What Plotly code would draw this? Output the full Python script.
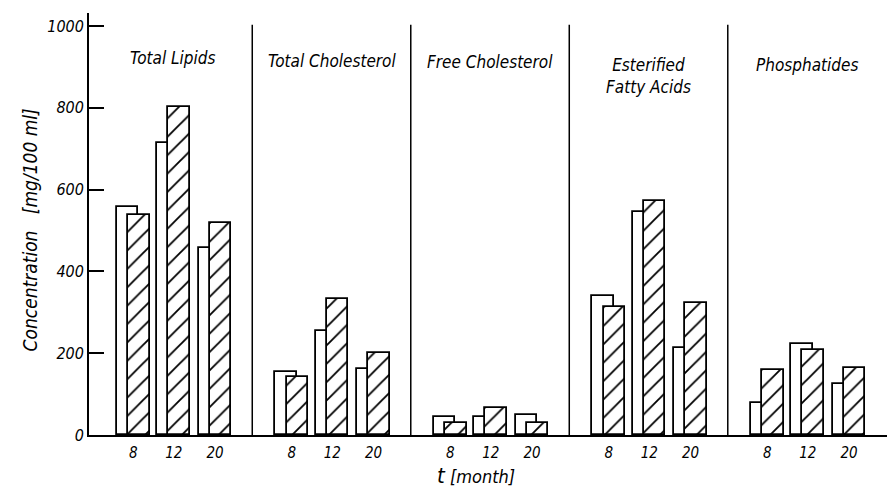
import plotly.graph_objects as go

# ---- data (mg/100 ml) ----
groups = ["Total Lipids", "Total Cholesterol", "Free Cholesterol",
          "Esterified<br>Fatty Acids", "Phosphatides"]
months = ["8", "12", "20"]

total_lipids_open = [557, 714, 457]
total_lipids_hatched = [538, 802, 518]
total_chol_open = [154, 254, 161]
total_chol_hatched = [142, 332, 200]
free_chol_open = [45, 45, 48]
free_chol_hatched = [30, 66, 30]
ester_fa_open = [340, 546, 212]
ester_fa_hatched = [312, 573, 322]
phosph_open = [78, 222, 125]
phosph_hatched = [160, 208, 163]

y_ticks = [0, 200, 400, 600, 800, 1000]

open_series = [total_lipids_open, total_chol_open, free_chol_open, ester_fa_open, phosph_open]
hatched_series = [total_lipids_hatched, total_chol_hatched, free_chol_hatched,
                  ester_fa_hatched, phosph_hatched]

# ---- layout constants ----
month_offsets = [0.25, 0.505, 0.765]
bar_w = 0.136
open_shift = -0.036
hatch_shift = 0.034

FONT = "DejaVu Sans Condensed, Liberation Sans Narrow, Roboto Condensed, Liberation Sans, Arial"

x_open, y_open, x_hatch, y_hatch, tick_x, tick_t = [], [], [], [], [], []
for gi in range(len(groups)):
    for mi, m in enumerate(months):
        c = gi + month_offsets[mi]
        x_open.append(c + open_shift)
        y_open.append(open_series[gi][mi])
        x_hatch.append(c + hatch_shift)
        y_hatch.append(hatched_series[gi][mi])
        tick_x.append(c)
        tick_t.append(m)

fig = go.Figure()
fig.add_trace(go.Bar(
    x=x_open, y=y_open, width=bar_w,
    marker=dict(color="white", line=dict(color="black", width=1.8)),
    showlegend=False, hoverinfo="skip"))
fig.add_trace(go.Bar(
    x=x_hatch, y=y_hatch, width=bar_w,
    marker=dict(color="white", line=dict(color="black", width=1.8),
                pattern=dict(shape="/", fgcolor="black", fgopacity=1, bgcolor="white",
                             size=13, solidity=0.14)),
    showlegend=False, hoverinfo="skip"))

# separators between groups
for k in range(1, len(groups)):
    fig.add_shape(type="line", xref="x", yref="y", x0=k, x1=k, y0=0, y1=1003,
                  line=dict(color="black", width=1.5))

# group titles
title_y = [0.922, 0.915, 0.912, 0.905, 0.905]
for gi, g in enumerate(groups):
    fig.add_annotation(x=gi + 0.5, y=title_y[gi], xref="x", yref="paper",
                       text=g, showarrow=False, yanchor="top", xanchor="center",
                       align="center",
                       font=dict(family=FONT, size=17, color="black", style="italic"))

# axis titles
fig.add_annotation(x=-0.073, y=0.485, xref="paper", yref="paper",
                   xanchor="center", yanchor="middle",
                   text="Concentration   [mg/100 ml]", textangle=-90, showarrow=False,
                   font=dict(family=FONT, size=19, color="black", style="italic"))
fig.add_annotation(x=2.41, y=-0.062, xref="x", yref="paper",
                   xanchor="center", yanchor="top",
                   text="<span style='font-size:22px'>t</span> [month]", showarrow=False,
                   font=dict(family=FONT, size=18, color="black", style="italic"))

# page body has an 8px default margin, so the figure is sized to fit the window
fig.update_layout(
    width=887, height=483,
    margin=dict(l=81, r=0, t=5, b=56, autoexpand=False),
    paper_bgcolor="white", plot_bgcolor="white",
    barmode="overlay", bargap=0,
    xaxis=dict(range=[-0.03, 5.055], showgrid=False, zeroline=False, automargin=False,
               showline=True, linecolor="black", linewidth=1.8,
               tickmode="array", tickvals=tick_x, ticktext=tick_t, ticks="",
               ticklabelstandoff=3,
               tickfont=dict(family=FONT, size=15, color="black", style="italic")),
    yaxis=dict(range=[0, 1032], showgrid=False, zeroline=False, automargin=False,
               showline=True, linecolor="black", linewidth=1.8,
               tickmode="array", tickvals=y_ticks, ticks="inside", ticklen=15,
               tickwidth=1.5, tickcolor="black",
               tickfont=dict(family=FONT, size=16, color="black", style="italic")),
)

fig.write_html("out.html")
